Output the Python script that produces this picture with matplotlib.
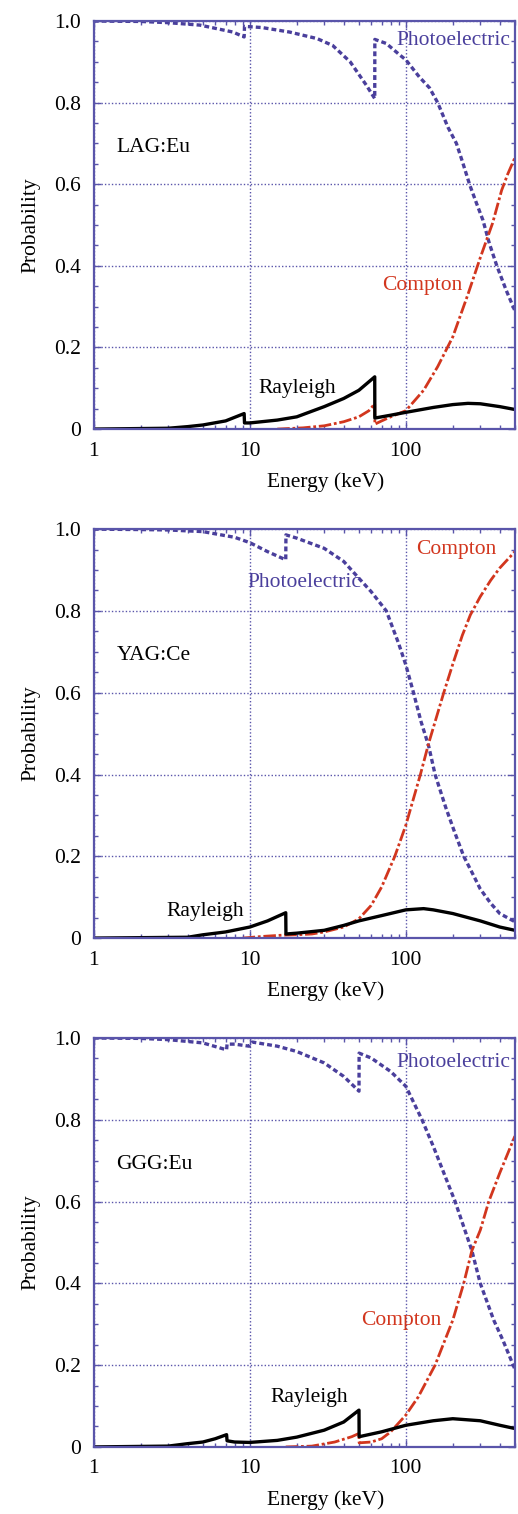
import matplotlib
matplotlib.use('Agg')
import matplotlib.pyplot as plt
from matplotlib.ticker import FixedLocator, LogLocator, NullFormatter, MultipleLocator

plt.rcParams['font.family'] = ['Liberation Serif', 'DejaVu Serif']
plt.rcParams['font.size'] = 15.5
plt.rcParams['lines.scale_dashes'] = False

# ---- LAG:Eu ----
lag_photo_e = [1, 2, 3, 4.8, 7.8, 9.2, 9.25, 12, 18, 27, 34, 44, 56, 63.2, 63.3, 75, 92, 100,
               122, 142, 160, 186, 211, 232, 257, 284, 312, 343, 383, 440, 500]
lag_photo_p = [1.0, 0.999, 0.996, 0.99, 0.973, 0.961, 0.987, 0.984, 0.973, 0.957, 0.94, 0.90, 0.842,
               0.81, 0.955, 0.945, 0.916, 0.905, 0.863, 0.836, 0.80, 0.74, 0.70, 0.652, 0.598, 0.553,
               0.512, 0.455, 0.40, 0.34, 0.29]
lag_compton_e = [15, 22, 30, 40, 50, 58, 63.2, 63.3, 70, 80, 100, 130, 160, 200, 250, 300, 360, 411, 450, 500]
lag_compton_p = [0.0, 0.003, 0.008, 0.018, 0.03, 0.045, 0.062, 0.012, 0.02, 0.03, 0.045, 0.095, 0.153,
                 0.226, 0.33, 0.42, 0.505, 0.585, 0.625, 0.665]
lag_rayleigh_e = [1, 3, 4, 5, 7, 9.2, 9.25, 10, 15, 20, 30, 40, 50, 63.2, 63.3, 80, 100, 150, 200, 250,
                  300, 400, 500]
lag_rayleigh_p = [0.0, 0.002, 0.006, 0.01, 0.02, 0.038, 0.015, 0.015, 0.022, 0.03, 0.055, 0.075, 0.095,
                  0.128, 0.027, 0.034, 0.041, 0.053, 0.06, 0.063, 0.062, 0.055, 0.048]

# ---- YAG:Ce ----
yag_photo_e = [1, 2, 3, 5, 8, 10, 13, 17.0, 17.05, 20, 30, 40, 50, 60, 75, 90, 100, 112, 125, 140,
               154, 180, 205, 235, 270, 300, 350, 400, 500]
yag_photo_p = [1.0, 0.999, 0.998, 0.994, 0.98, 0.967, 0.945, 0.925, 0.986, 0.978, 0.953, 0.921, 0.88,
               0.847, 0.80, 0.72, 0.668, 0.60, 0.53, 0.47, 0.40, 0.32, 0.26, 0.20, 0.155, 0.12, 0.085,
               0.06, 0.04]
yag_compton_e = [9, 12, 16, 20, 25, 30, 40, 50, 60, 70, 85, 100, 124, 140, 175, 200, 230, 259, 300, 350,
                 400, 500]
yag_compton_p = [0.0, 0.004, 0.007, 0.008, 0.01, 0.015, 0.027, 0.047, 0.08, 0.125, 0.20, 0.276, 0.40,
                 0.476, 0.60, 0.67, 0.74, 0.79, 0.835, 0.875, 0.905, 0.945]
yag_rayleigh_e = [1, 4, 5, 7, 10, 13, 17.0, 17.05, 20, 30, 40, 50, 70, 100, 130, 150, 200, 300, 400, 500]
yag_rayleigh_p = [0.0, 0.002, 0.008, 0.015, 0.027, 0.042, 0.062, 0.01, 0.012, 0.019, 0.031, 0.042,
                  0.055, 0.069, 0.072, 0.069, 0.06, 0.042, 0.027, 0.019]

# ---- GGG:Eu ----
ggg_photo_e = [1, 2, 3, 5, 7.1, 7.15, 8, 9.9, 10.4, 15, 20, 30, 40, 50.1, 50.2, 60, 80, 100, 127, 150,
               207, 265, 300, 366, 420, 500]
ggg_photo_p = [1.0, 0.999, 0.996, 0.988, 0.971, 0.985, 0.985, 0.98, 0.99, 0.98, 0.967, 0.939, 0.906,
               0.87, 0.963, 0.951, 0.918, 0.882, 0.80, 0.735, 0.60, 0.48, 0.40, 0.31, 0.26, 0.19]
ggg_compton_e = [17, 25, 35, 45, 50.1, 50.2, 60, 70, 80, 100, 120, 154, 200, 235, 265, 300, 340, 400, 500]
ggg_compton_p = [0.0, 0.002, 0.012, 0.025, 0.033, 0.01, 0.012, 0.02, 0.037, 0.078, 0.122, 0.20, 0.31,
                 0.40, 0.48, 0.53, 0.60, 0.67, 0.76]
ggg_rayleigh_e = [1, 3, 4, 5, 6, 7.1, 7.15, 8, 10, 15, 20, 30, 40, 50.1, 50.2, 70, 100, 150, 200, 300,
                  400, 500]
ggg_rayleigh_p = [0.0, 0.002, 0.008, 0.012, 0.02, 0.03, 0.015, 0.012, 0.011, 0.016, 0.024, 0.041, 0.061,
                  0.09, 0.025, 0.037, 0.053, 0.064, 0.069, 0.064, 0.053, 0.045]

y_ticks = [0, 0.2, 0.4, 0.6, 0.8, 1.0]
y_tick_labels = ['0', '0.2', '0.4', '0.6', '0.8', '1.0']
x_ticks = [1, 10, 100]
x_tick_labels = ['1', '10', '100']

FRAME = '#5a55aa'
PHOTO = '#4a3f9c'
COMPTON = '#d2361e'


def draw_panel(ax, name, photo, compton, rayleigh, labels):
    ax.plot(photo[0], photo[1], color=PHOTO, lw=2.4, dashes=(3.5, 2.2))
    ax.plot(compton[0], compton[1], color=COMPTON, lw=2.0, dashes=(9, 2, 2, 2))
    ax.plot(rayleigh[0], rayleigh[1], color='black', lw=2.4)

    ax.set_xscale('log')
    ax.set_xlim(1, 500)
    ax.set_ylim(0, 1.0)
    ax.xaxis.set_major_locator(FixedLocator(x_ticks))
    ax.set_xticklabels(x_tick_labels)
    ax.xaxis.set_minor_locator(LogLocator(base=10, subs=range(2, 10)))
    ax.xaxis.set_minor_formatter(NullFormatter())
    ax.set_yticks(y_ticks)
    ax.set_yticklabels(y_tick_labels)
    ax.yaxis.set_minor_locator(MultipleLocator(0.05))

    ax.tick_params(which='both', direction='in', top=True, right=True, color=FRAME)
    ax.tick_params(which='major', length=5, width=1, pad=9)
    ax.tick_params(which='minor', length=3, width=1)
    ax.grid(True, which='major', color=FRAME, linestyle=(0, (1, 1.5)), linewidth=1)
    for s in ax.spines.values():
        s.set_color(FRAME)
        s.set_linewidth(1.6)

    ax.set_xlabel('Energy (keV)')
    ax.xaxis.set_label_coords(0.55, -0.105)
    ax.set_ylabel('Probability', labelpad=10)

    ax.text(1.4, 0.69, name, color='black', va='center', ha='left')
    for text, x, y, c in labels:
        ax.text(x, y, text, color=c, va='center', ha='left')


fig = plt.figure(figsize=(5.18, 15.14), dpi=100)
ax1 = fig.add_axes([0.181, 0.7166, 0.813, 0.2695])
ax2 = fig.add_axes([0.181, 0.3804, 0.813, 0.2701])
ax3 = fig.add_axes([0.181, 0.0443, 0.813, 0.2701])

draw_panel(ax1, 'LAG:Eu', (lag_photo_e, lag_photo_p), (lag_compton_e, lag_compton_p),
           (lag_rayleigh_e, lag_rayleigh_p),
           [('Photoelectric', 87, 0.953, PHOTO), ('Compton', 70, 0.353, COMPTON),
            ('Rayleigh', 11.4, 0.10, 'black')])
draw_panel(ax2, 'YAG:Ce', (yag_photo_e, yag_photo_p), (yag_compton_e, yag_compton_p),
           (yag_rayleigh_e, yag_rayleigh_p),
           [('Compton', 117, 0.949, COMPTON), ('Photoelectric', 9.6, 0.87, PHOTO),
            ('Rayleigh', 2.93, 0.064, 'black')])
draw_panel(ax3, 'GGG:Eu', (ggg_photo_e, ggg_photo_p), (ggg_compton_e, ggg_compton_p),
           (ggg_rayleigh_e, ggg_rayleigh_p),
           [('Photoelectric', 87, 0.941, PHOTO), ('Compton', 51.5, 0.31, COMPTON),
            ('Rayleigh', 13.6, 0.12, 'black')])

fig.savefig('out.png', dpi=100)
